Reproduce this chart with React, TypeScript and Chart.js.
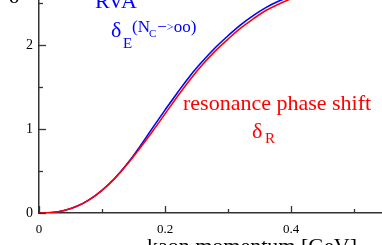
import { useEffect, useRef } from 'react';
import { Chart, registerables } from 'chart.js';

Chart.register(...registerables);

// kaon momentum [GeV]
const momentum = [0, 0.02, 0.04, 0.06, 0.08, 0.1, 0.12, 0.14, 0.16, 0.18, 0.2, 0.22, 0.24, 0.26, 0.28, 0.3, 0.32, 0.34, 0.36, 0.38, 0.4, 0.42];
// resonance phase shift delta_R
const deltaR = [0, 0.005, 0.03, 0.08, 0.16, 0.27, 0.41, 0.58, 0.77, 0.97, 1.18, 1.39, 1.59, 1.77, 1.93, 2.07, 2.2, 2.31, 2.41, 2.485, 2.55, 2.61];
// RVA delta_E (Nc -> oo)
const deltaE = [0, 0.005, 0.03, 0.08, 0.16, 0.27, 0.41, 0.585, 0.79, 1.01, 1.225, 1.435, 1.635, 1.81, 1.97, 2.11, 2.24, 2.35, 2.445, 2.52, 2.58, 2.64];

const xLabeled = [0, 0.2, 0.4];
const yLabeled = [0, 1, 2];

const X_MAX = 0.5444;
const Y_MAX = 2.5357;

const SERIF = '"Liberation Serif", "Times New Roman", serif';

const near = (a: number, b: number) => Math.abs(a - b) < 1e-6;

const inwardTicks = {
  id: 'inwardTicks',
  afterDatasetsDraw(chart: any) {
    const { ctx, chartArea, scales } = chart;
    const xs = scales.x;
    const ys = scales.y;
    ctx.save();
    ctx.strokeStyle = '#333';
    ctx.lineWidth = 1.3;
    xs.ticks.forEach((t: any) => {
      const px = Math.round(xs.getPixelForValue(t.value)) + 0.5;
      const major = xLabeled.some((v) => near(v, t.value));
      const len = major ? 7 : 4;
      ctx.beginPath();
      ctx.moveTo(px, chartArea.bottom);
      ctx.lineTo(px, chartArea.bottom - len);
      ctx.stroke();
    });
    ys.ticks.forEach((t: any) => {
      const py = Math.round(ys.getPixelForValue(t.value)) + 0.5;
      const major = yLabeled.some((v) => near(v, t.value));
      const len = major ? 7 : 4;
      ctx.beginPath();
      ctx.moveTo(chartArea.left, py);
      ctx.lineTo(chartArea.left + len, py);
      ctx.stroke();
    });
    ctx.restore();
  },
};

const annotations = {
  id: 'annotations',
  afterDraw(chart: any) {
    const ctx = chart.ctx;
    ctx.save();
    ctx.textBaseline = 'alphabetic';
    ctx.textAlign = 'left';

    // top-left fragment of the y label
    ctx.fillStyle = '#000';
    ctx.font = `22px ${SERIF}`;
    ctx.fillText('δ', 9, 3);

    // RVA label (blue)
    ctx.fillStyle = '#0000ff';
    ctx.font = `22px ${SERIF}`;
    ctx.fillText('RVA', 95, 8);
    ctx.fillText('δ', 111, 37);
    ctx.font = `15px ${SERIF}`;
    ctx.fillText('E', 123, 48);
    let x = 132;
    ctx.font = `17px ${SERIF}`;
    ctx.fillText('(N', x, 32);
    x += ctx.measureText('(N').width;
    ctx.font = `11px ${SERIF}`;
    ctx.fillText('C', x - 1, 37);
    x += ctx.measureText('C').width;
    ctx.font = `17px ${SERIF}`;
    ctx.fillText('−', x, 32);
    x += ctx.measureText('−').width;
    ctx.font = `12px ${SERIF}`;
    ctx.fillText('>', x, 31);
    x += ctx.measureText('>').width;
    ctx.font = `17px ${SERIF}`;
    ctx.fillText('oo)', x, 32);

    // resonance label (red)
    ctx.fillStyle = '#ff0000';
    ctx.font = `22px ${SERIF}`;
    ctx.fillText('resonance phase shift', 183, 110);
    ctx.fillText('δ', 252, 138);
    ctx.font = `15px ${SERIF}`;
    ctx.fillText('R', 265, 143);

    // x axis title (cut by the frame)
    ctx.fillStyle = '#000';
    ctx.font = `22px ${SERIF}`;
    ctx.textAlign = 'center';
    ctx.fillText('kaon momentum [GeV]', 252, 253);
    ctx.restore();
  },
};

export default function App() {
  const ref = useRef<HTMLCanvasElement | null>(null);

  useEffect(() => {
    if (!ref.current) return;
    const chart = new Chart(ref.current, {
      type: 'line',
      data: {
        datasets: [
          {
            label: 'resonance phase shift',
            data: momentum.map((m, i) => ({ x: m, y: deltaR[i] })),
            borderColor: '#ff0000',
            borderWidth: 1.6,
            pointRadius: 0,
            tension: 0.4,
            fill: false,
          },
          {
            label: 'RVA',
            data: momentum.map((m, i) => ({ x: m, y: deltaE[i] })),
            borderColor: '#0000ff',
            borderWidth: 1.6,
            pointRadius: 0,
            tension: 0.4,
            fill: false,
          },
        ],
      },
      options: {
        animation: false,
        responsive: false,
        maintainAspectRatio: false,
        layout: { padding: 0 },
        plugins: {
          legend: { display: false },
          tooltip: { enabled: false },
        },
        scales: {
          x: {
            type: 'linear',
            min: 0,
            max: X_MAX,
            grid: { display: false, drawTicks: false },
            border: { display: true, color: '#333', width: 1.5 },
            afterFit: (s: any) => {
              s.height = 32;
              s.paddingLeft = 0;
              s.paddingRight = 0;
              s.paddingTop = 0;
              s.paddingBottom = 0;
            },
            ticks: {
              stepSize: 0.1,
              includeBounds: false,
              autoSkip: false,
              maxRotation: 0,
              padding: 9,
              color: '#000',
              font: { family: SERIF, size: 13 },
              callback: (v: any) => {
                const n = Number(v);
                const hit = xLabeled.find((l) => near(l, n));
                return hit === undefined ? '' : String(hit);
              },
            },
          },
          y: {
            type: 'linear',
            min: 0,
            max: Y_MAX,
            grid: { display: false, drawTicks: false },
            border: { display: true, color: '#333', width: 1.5 },
            afterFit: (s: any) => {
              s.width = 39;
              s.paddingLeft = 0;
              s.paddingRight = 0;
              s.paddingTop = 0;
              s.paddingBottom = 0;
            },
            ticks: {
              stepSize: 0.5,
              includeBounds: false,
              autoSkip: false,
              padding: 6,
              color: '#000',
              font: { family: SERIF, size: 14 },
              callback: (v: any) => {
                const n = Number(v);
                const hit = yLabeled.find((l) => near(l, n));
                return hit === undefined ? '' : String(hit);
              },
            },
          },
        },
      },
      plugins: [inwardTicks, annotations],
    });
    return () => chart.destroy();
  }, []);

  return (
    <div style={{ position: 'absolute', left: 0, top: 0, width: 382, height: 245, background: '#fff' }}>
      <canvas ref={ref} width={382} height={245} style={{ display: 'block', width: 382, height: 245 }} />
    </div>
  );
}
